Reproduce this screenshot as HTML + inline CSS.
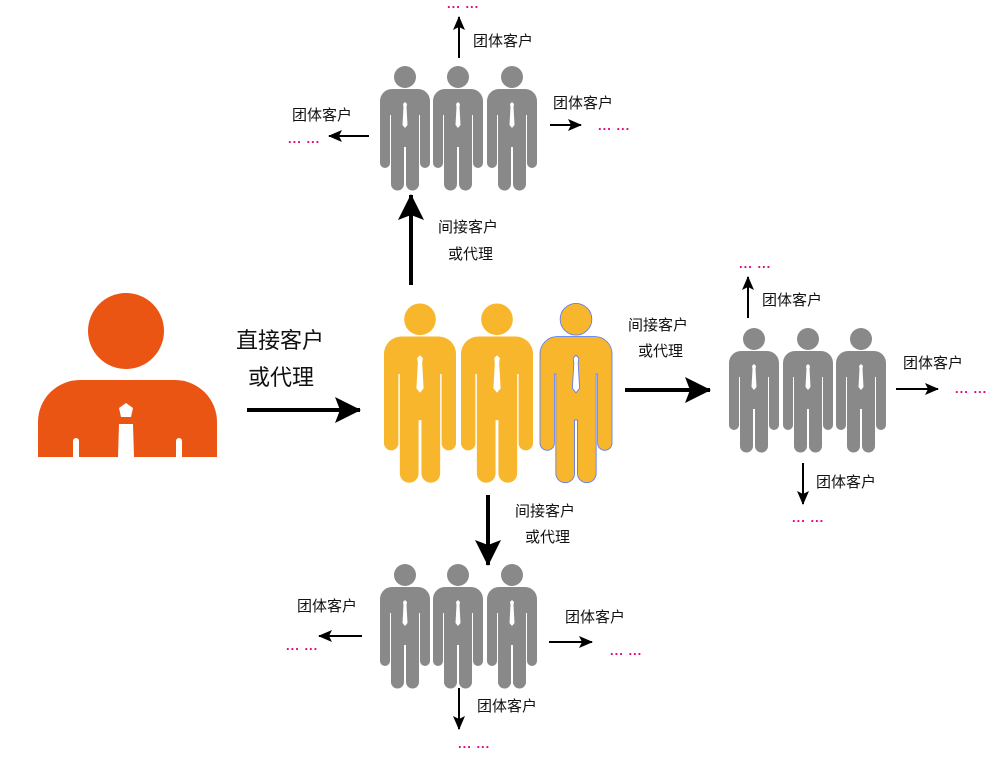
<!DOCTYPE html>
<html><head><meta charset="utf-8"><style>
body{margin:0;background:#fff;}
svg{display:block;}
text{font-family:"Liberation Sans","Noto Sans CJK SC",sans-serif;fill:#111;}
.d text{fill:#e6007e;font-size:13px;font-weight:bold;letter-spacing:1px}
</style></head><body>
<svg width="1008" height="761" viewBox="0 0 1008 761" xmlns="http://www.w3.org/2000/svg">
<defs>
<g id="p">
<circle cx="25" cy="12" r="11"/>
<path d="M12 24 H38 A12 12 0 0 1 50 36 V98 A5 5 0 0 1 40 98 V50 H39 V119 A6 6 0 0 1 26 119 V82 H24 V119 A6 6 0 0 1 11 119 V50 H10 V98 A5 5 0 0 1 0 98 V36 A12 12 0 0 1 12 24 Z"/>
<polygon fill="#fff" points="23,39 25,37 27,39 26.5,42 27.5,60 25,63 22.5,60 23.5,42"/>
</g>
<marker id="a" markerWidth="14" markerHeight="12" refX="13" refY="6" orient="auto" markerUnits="userSpaceOnUse"><path d="M0 0 L14 6 L0 12 L3 6 Z" fill="#000"/></marker>
<marker id="A" markerWidth="26" markerHeight="26" refX="25" refY="13" orient="auto" markerUnits="userSpaceOnUse"><path d="M0 0 L26 13 L0 26 L5 13 Z" fill="#000"/></marker>
</defs>

<g fill="#ea5514">
<circle cx="126" cy="331" r="38"/>
<path d="M80 380 H175 A42 42 0 0 1 217 422 V457 H182 V441 A3 3 0 0 0 176 441 V457 H134 L133 424 H119 L118 457 H79 V441 A3 3 0 0 0 73 441 V457 H38 V422 A42 42 0 0 1 80 380 Z"/>
</g>
<polygon fill="#fff" points="119,408 126,403 133,408 131,417 121,417"/>

<g fill="#f8b62d">
<use href="#p" transform="translate(384,302) scale(1.44)"/>
<use href="#p" transform="translate(461,302) scale(1.44)"/>
<use href="#p" transform="translate(540,302) scale(1.44)" stroke="#5b7cf5" stroke-width="0.6"/>
</g>

<g fill="#898989">
<use href="#p" x="380" y="65"/><use href="#p" x="433" y="65"/><use href="#p" x="487" y="65"/>
<use href="#p" x="729" y="327"/><use href="#p" x="783" y="327"/><use href="#p" x="836" y="327"/>
<use href="#p" x="380" y="563"/><use href="#p" x="433" y="563"/><use href="#p" x="487" y="563"/>
</g>

<g stroke="#000" stroke-width="4" fill="none">
<line x1="247" y1="410" x2="360" y2="410" marker-end="url(#A)"/>
<line x1="411" y1="285" x2="411" y2="195" marker-end="url(#A)"/>
<line x1="625" y1="390" x2="710" y2="390" marker-end="url(#A)"/>
<line x1="488" y1="495" x2="488" y2="565" marker-end="url(#A)"/>
</g>
<g stroke="#000" stroke-width="2" fill="none">
<line x1="459" y1="58" x2="459" y2="17" marker-end="url(#a)"/>
<line x1="369" y1="136" x2="329" y2="136" marker-end="url(#a)"/>
<line x1="550" y1="125" x2="581" y2="125" marker-end="url(#a)"/>
<line x1="748" y1="318" x2="748" y2="277" marker-end="url(#a)"/>
<line x1="896" y1="389" x2="938" y2="389" marker-end="url(#a)"/>
<line x1="803" y1="463" x2="803" y2="504" marker-end="url(#a)"/>
<line x1="362" y1="636" x2="319" y2="636" marker-end="url(#a)"/>
<line x1="549" y1="642" x2="592" y2="642" marker-end="url(#a)"/>
<line x1="459" y1="688" x2="459" y2="729" marker-end="url(#a)"/>
</g>

<text x="236" y="348" font-size="22">直接客户</text>
<text x="248" y="385" font-size="22">或代理</text>
<g font-size="15">
<text x="438" y="232">间接客户</text><text x="448" y="259">或代理</text>
<text x="628" y="330">间接客户</text><text x="638" y="356">或代理</text>
<text x="515" y="516">间接客户</text><text x="525" y="542">或代理</text>
<text x="473" y="46">团体客户</text>
<text x="292" y="120">团体客户</text>
<text x="553" y="108">团体客户</text>
<text x="762" y="305">团体客户</text>
<text x="903" y="368">团体客户</text>
<text x="816" y="487">团体客户</text>
<text x="297" y="611">团体客户</text>
<text x="565" y="622">团体客户</text>
<text x="477" y="711">团体客户</text>
</g>
<g class="d">
<text x="447" y="8">... ...</text>
<text x="288" y="143">... ...</text>
<text x="598" y="130">... ...</text>
<text x="739" y="268">... ...</text>
<text x="955" y="393">... ...</text>
<text x="792" y="522">... ...</text>
<text x="286" y="650">... ...</text>
<text x="610" y="655">... ...</text>
<text x="458" y="748">... ...</text>
</g>
</svg>
</body></html>
